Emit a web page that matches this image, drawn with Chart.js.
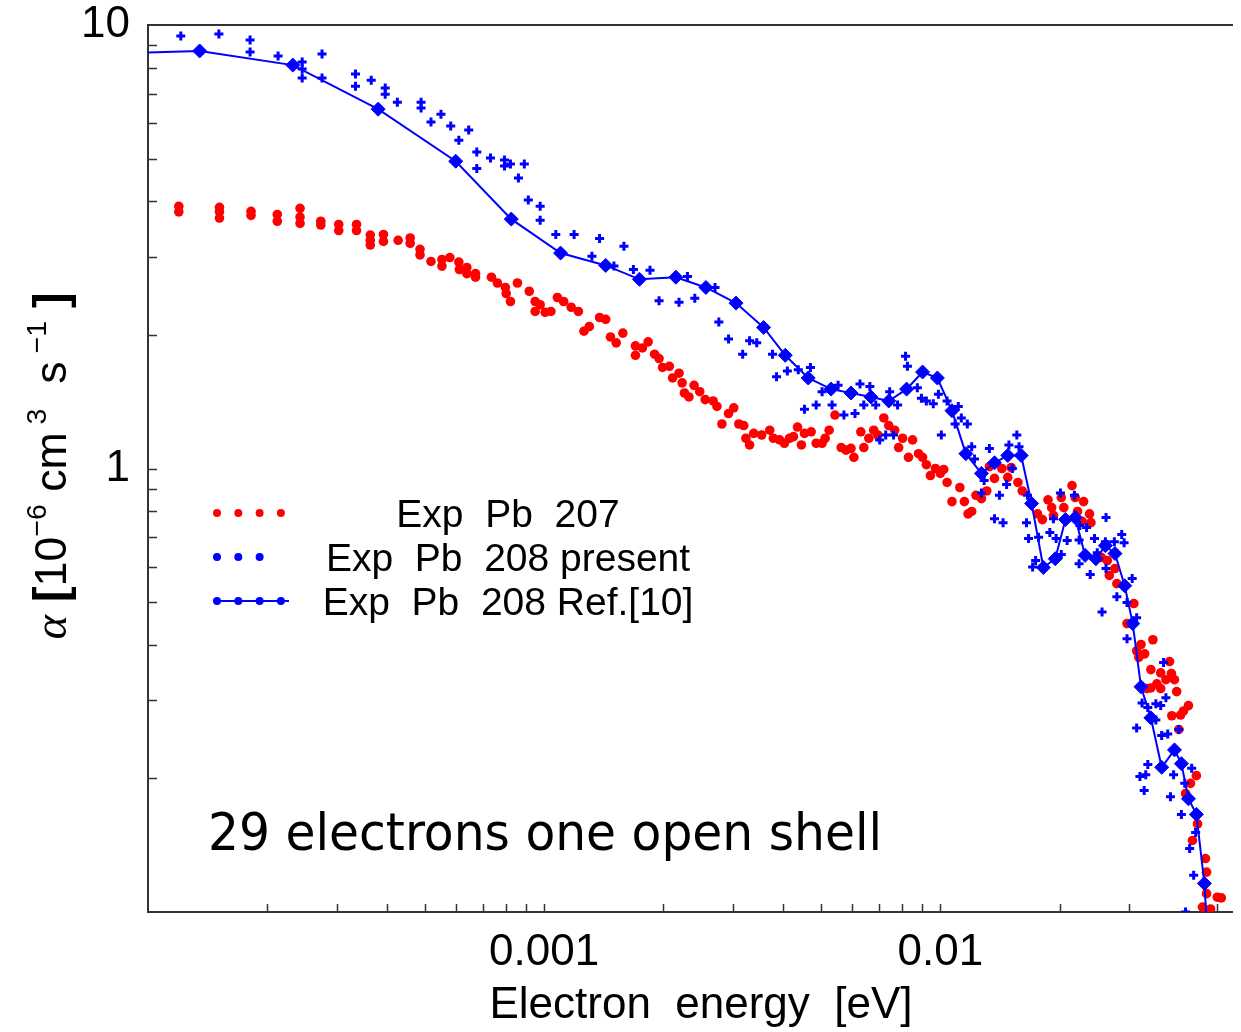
<!DOCTYPE html>
<html>
<head>
<meta charset="utf-8">
<script src="https://cdn.jsdelivr.net/npm/chart.js@4.4.1/dist/chart.umd.min.js"></script>
<style>
  html, body { margin: 0; padding: 0; background: #fff; }
</style>
</head>
<body>
<canvas id="chart" width="1241" height="1032"></canvas>
<script>
// Exp Pb 207 (red dots): electron energy [eV] and rate [1e-6 cm^3 s^-1]
const pb207Energy = [
  1.196e-4, 1.196e-4, 1.515e-4, 1.515e-4, 1.515e-4, 1.82e-4, 1.82e-4, 2.12e-4, 2.12e-4, 2.42e-4,
  2.42e-4, 2.42e-4, 2.73e-4, 2.73e-4, 3.03e-4, 3.03e-4, 3.36e-4, 3.36e-4, 3.64e-4, 3.64e-4,
  3.64e-4, 3.93e-4, 3.93e-4, 4.28e-4, 4.59e-4, 4.59e-4, 4.86e-4, 4.86e-4, 5.18e-4, 5.52e-4,
  5.52e-4, 5.78e-4, 6.09e-4, 6.11e-4, 6.38e-4, 6.38e-4, 6.71e-4, 6.71e-4, 7.36e-4, 7.62e-4,
  7.98e-4, 8.02e-4, 8.22e-4, 8.56e-4, 9.17e-4, 9.49e-4, 9.49e-4, 9.77e-4, 1.006e-3, 1.04e-3,
  1.08e-3, 1.12e-3, 1.17e-3, 1.22e-3, 1.26e-3, 1.30e-3, 1.38e-3, 1.43e-3, 1.47e-3, 1.52e-3,
  1.58e-3, 1.70e-3, 1.70e-3, 1.77e-3, 1.83e-3, 1.90e-3, 1.95e-3, 1.99e-3, 2.07e-3, 2.11e-3,
  2.19e-3, 2.23e-3, 2.26e-3, 2.32e-3, 2.39e-3, 2.47e-3, 2.55e-3, 2.67e-3, 2.73e-3, 2.81e-3,
  2.92e-3, 3.01e-3, 3.10e-3, 3.19e-3, 3.23e-3, 3.30e-3, 3.38e-3, 3.54e-3, 3.71e-3, 3.79e-3,
  3.93e-3, 4.04e-3, 4.16e-3, 4.26e-3, 4.36e-3, 4.46e-3, 4.54e-3, 4.72e-3, 4.86e-3, 5.03e-3,
  5.12e-3, 5.24e-3, 5.42e-3, 5.62e-3, 5.78e-3, 5.95e-3, 6.05e-3, 6.30e-3, 6.41e-3, 6.60e-3,
  6.79e-3, 6.95e-3, 7.20e-3, 7.41e-3, 7.67e-3, 7.85e-3, 8.03e-3, 8.31e-3, 8.51e-3, 8.81e-3,
  9.02e-3, 9.22e-3, 9.44e-3, 9.72e-3, 1.00e-2, 1.02e-2, 1.04e-2, 1.07e-2, 1.12e-2, 1.15e-2,
  1.175e-2, 1.20e-2, 1.23e-2, 1.27e-2, 1.31e-2, 1.33e-2, 1.37e-2, 1.43e-2, 1.48e-2, 1.51e-2,
  1.57e-2, 1.61e-2, 1.76e-2, 1.81e-2, 1.87e-2, 1.91e-2, 1.93e-2, 2.02e-2, 2.05e-2, 2.15e-2,
  2.19e-2, 2.22e-2, 2.28e-2, 2.30e-2, 2.38e-2, 2.40e-2, 2.55e-2, 2.64e-2, 2.67e-2, 2.76e-2,
  2.79e-2, 2.96e-2, 3.08e-2, 3.13e-2, 3.17e-2, 3.21e-2, 3.28e-2, 3.32e-2, 3.40e-2, 3.40e-2,
  3.44e-2, 3.52e-2, 3.60e-2, 3.60e-2, 3.71e-2, 3.79e-2, 3.83e-2, 3.84e-2, 3.90e-2, 3.95e-2,
  4.00e-2, 4.04e-2, 4.11e-2, 4.16e-2, 4.23e-2, 4.28e-2, 4.33e-2, 4.43e-2, 4.46e-2, 4.59e-2,
  4.67e-2, 4.70e-2, 4.70e-2, 4.81e-2, 5.00e-2, 5.12e-2
];
const pb207Rate = [
  3.90, 3.79, 3.88, 3.79, 3.67, 3.80, 3.72, 3.74, 3.61, 3.86,
  3.69, 3.57, 3.61, 3.54, 3.55, 3.44, 3.55, 3.44, 3.36, 3.27,
  3.19, 3.37, 3.25, 3.27, 3.31, 3.22, 3.12, 3.03, 2.93, 2.96,
  2.86, 2.99, 2.92, 2.81, 2.84, 2.75, 2.75, 2.70, 2.70, 2.62,
  2.56, 2.48, 2.38, 2.62, 2.51, 2.38, 2.26, 2.34, 2.25, 2.26,
  2.43, 2.38, 2.31, 2.26, 2.04, 2.09, 2.19, 2.17, 1.98, 1.92,
  2.02, 1.89, 1.80, 1.87, 1.93, 1.81, 1.77, 1.69, 1.70, 1.60,
  1.64, 1.56, 1.48, 1.45, 1.54, 1.49, 1.43, 1.42, 1.38, 1.26,
  1.33, 1.37, 1.26, 1.25, 1.17, 1.13, 1.20, 1.19, 1.22, 1.17,
  1.16, 1.14, 1.17, 1.18, 1.24, 1.13, 1.20, 1.21, 1.14, 1.14,
  1.17, 1.22, 1.32, 1.115, 1.10, 1.11, 1.06, 1.21, 1.115, 1.17,
  1.22, 1.19, 1.30, 1.25, 1.22, 1.115, 1.17, 1.06, 1.16, 1.08,
  1.06, 1.02, 0.964, 1.00, 0.975, 0.995, 0.93, 0.842, 0.906, 0.842,
  0.79, 0.80, 0.87, 0.855, 0.89, 1.01, 0.95, 1.00, 0.955, 1.005,
  0.93, 0.89, 0.79, 0.767, 0.85, 0.816, 0.784, 0.86, 0.816, 0.915,
  0.86, 0.80, 0.76, 0.842, 0.79, 0.755, 0.63, 0.62, 0.574, 0.595,
  0.55, 0.447, 0.496, 0.388, 0.375, 0.401, 0.382, 0.319, 0.352, 0.32,
  0.411, 0.327, 0.346, 0.319, 0.334, 0.367, 0.345, 0.277, 0.334, 0.314,
  0.258, 0.278, 0.284, 0.185, 0.292, 0.195, 0.145, 0.203, 0.158, 0.1026,
  0.132, 0.123, 0.110, 0.1016, 0.108, 0.1076
];

// Exp Pb 208 present (blue crosses)
const pb208Energy = [
  1.21e-4, 1.51e-4, 1.81e-4, 1.81e-4, 2.13e-4, 2.45e-4, 2.45e-4, 2.45e-4, 2.75e-4, 2.75e-4,
  3.34e-4, 3.34e-4, 3.66e-4, 3.97e-4, 3.97e-4, 4.26e-4, 4.89e-4, 4.89e-4, 5.18e-4, 5.49e-4,
  5.81e-4, 6.09e-4, 6.45e-4, 6.76e-4, 6.76e-4, 7.32e-4, 7.94e-4, 7.94e-4, 8.22e-4, 8.61e-4,
  8.91e-4, 9.12e-4, 9.77e-4, 9.77e-4, 1.07e-3, 1.19e-3, 1.38e-3, 1.59e-3, 1.32e-3, 1.50e-3,
  1.68e-3, 1.85e-3, 1.95e-3, 2.19e-3, 2.30e-3, 2.40e-3, 2.70e-3, 2.76e-3, 2.92e-3, 3.17e-3,
  3.30e-3, 3.44e-3, 3.77e-3, 3.86e-3, 4.11e-3, 4.38e-3, 4.70e-3, 4.54e-3, 4.86e-3, 5.03e-3,
  5.33e-3, 5.52e-3, 5.71e-3, 6.09e-3, 6.27e-3, 6.41e-3, 6.64e-3, 6.87e-3, 7.03e-3, 7.28e-3,
  7.62e-3, 7.45e-3, 7.80e-3, 8.17e-3, 8.26e-3, 8.75e-3, 8.96e-3, 9.22e-3, 9.60e-3, 9.89e-3,
  1.006e-2, 1.04e-2, 1.11e-2, 1.13e-2, 1.09e-2, 1.17e-2, 1.20e-2, 1.33e-2, 1.49e-2, 1.56e-2,
  1.58e-2, 1.22e-2, 1.29e-2, 1.47e-2, 1.52e-2, 1.27e-2, 1.41e-2, 1.37e-2, 1.44e-2, 1.66e-2,
  1.65e-2, 1.67e-2, 1.77e-2, 1.93e-2, 2.01e-2, 2.18e-2, 1.89e-2, 1.96e-2, 2.09e-2, 2.24e-2,
  1.74e-2, 1.71e-2, 2.02e-2, 2.24e-2, 2.39e-2, 2.25e-2, 2.34e-2, 2.62e-2, 2.45e-2, 2.61e-2,
  2.75e-2, 2.87e-2, 2.91e-2, 2.49e-2, 2.62e-2, 2.79e-2, 2.96e-2, 3.05e-2, 3.13e-2, 2.56e-2,
  2.96e-2, 3.66e-2, 3.23e-2, 3.34e-2, 3.50e-2, 3.60e-2, 3.71e-2, 3.13e-2, 3.62e-2, 3.75e-2,
  4.00e-2, 3.50e-2, 3.34e-2, 3.19e-2, 3.30e-2, 3.27e-2, 3.88e-2, 3.81e-2, 4.31e-2, 4.14e-2,
  4.06e-2, 4.41e-2, 4.26e-2, 4.36e-2, 4.16e-2
];
const pb208Rate = [
  9.45, 9.54, 9.25, 8.69, 8.51, 8.25, 7.96, 7.59, 8.60, 7.59,
  7.75, 7.28, 7.51, 7.21, 6.98, 6.70, 6.70, 6.50, 6.04, 6.29,
  5.92, 5.50, 5.80, 5.17, 4.75, 5.01, 4.96, 4.81, 4.86, 4.52,
  4.86, 4.03, 3.90, 3.63, 3.37, 3.37, 3.30, 3.17, 3.01, 2.86,
  2.81, 2.80, 2.39, 2.37, 2.71, 2.42, 2.56, 2.14, 1.96, 1.81,
  1.94, 1.92, 1.81, 1.61, 1.66, 1.67, 1.69, 1.36, 1.39, 1.49,
  1.39, 1.54, 1.32, 1.33, 1.55, 1.39, 1.53, 1.39, 1.16, 1.19,
  1.19, 1.49, 1.39, 1.79, 1.70, 1.52, 1.44, 1.42, 1.40, 1.47,
  1.19, 1.42, 1.38, 1.30, 1.26, 1.26, 1.12, 1.11, 1.13, 1.19,
  1.12, 1.05, 0.94, 0.92, 1.00, 0.88, 0.87, 0.77, 0.755, 0.87,
  0.755, 0.695, 0.70, 0.77, 0.88, 0.87, 0.717, 0.695, 0.688, 0.69,
  0.62, 0.60, 0.64, 0.61, 0.577, 0.744, 0.736, 0.775, 0.695, 0.684,
  0.684, 0.71, 0.68, 0.646, 0.595, 0.514, 0.499, 0.565, 0.461, 0.475,
  0.413, 0.365, 0.296, 0.289, 0.295, 0.292, 0.304, 0.260, 0.250, 0.252,
  0.258, 0.271, 0.215, 0.202, 0.204, 0.188, 0.204, 0.182, 0.211, 0.195,
  0.166, 0.151, 0.139, 0.121, 0.100
];

// Exp Pb 208 Ref.[10] (blue line with diamonds)
const refEnergy = [
  9.0e-5, 1.35e-4, 2.32e-4, 3.81e-4, 5.98e-4, 8.26e-4, 1.10e-3, 1.43e-3, 1.74e-3, 2.15e-3,
  2.56e-3, 3.05e-3, 3.58e-3, 4.06e-3, 4.64e-3, 5.30e-3, 5.95e-3, 6.68e-3, 7.41e-3, 8.22e-3,
  9.02e-3, 9.83e-3, 1.07e-2, 1.16e-2, 1.27e-2, 1.37e-2, 1.48e-2, 1.60e-2, 1.70e-2, 1.82e-2,
  1.95e-2, 2.07e-2, 2.19e-2, 2.32e-2, 2.47e-2, 2.61e-2, 2.76e-2, 2.92e-2, 3.06e-2, 3.21e-2,
  3.40e-2, 3.62e-2, 3.90e-2, 4.06e-2, 4.23e-2, 4.43e-2, 4.64e-2, 4.72e-2
];
const refRate = [
  8.65, 8.74, 8.12, 6.46, 4.93, 3.65, 3.06, 2.87, 2.67, 2.70,
  2.56, 2.36, 2.08, 1.80, 1.60, 1.51, 1.48, 1.45, 1.42, 1.51,
  1.65, 1.60, 1.35, 1.08, 0.975, 1.03, 1.07, 1.07, 0.834, 0.598,
  0.626, 0.767, 0.775, 0.637, 0.626, 0.670, 0.643, 0.544, 0.447, 0.322,
  0.274, 0.212, 0.232, 0.216, 0.180, 0.166, 0.116, 0.0906
];

// axis ticks (drawn inward) and the labelled ones
const xTickValues = [2e-4, 3e-4, 4e-4, 5e-4, 6e-4, 7e-4, 8e-4, 9e-4, 1e-3, 2e-3, 3e-3, 4e-3, 5e-3,
  6e-3, 7e-3, 8e-3, 9e-3, 1e-2, 2e-2, 3e-2, 5e-2];
const yTickValues = [0.2, 0.3, 0.4, 0.5, 0.6, 0.7, 0.8, 0.9, 1, 2, 3, 4, 5, 6, 7, 8, 9];
const xTickLabels = ['0.001', '0.01'];
const xLabelValues = [0.001, 0.01];
const yTickLabels = ['10', '1'];
const yLabelValues = [10, 1];

const FONT = '"Liberation Sans", Arial, sans-serif';
const RED = '#ff0000';
const BLUE = '#0000ff';

const toPoints = (xs, ys) => xs.map((x, i) => ({ x: x, y: ys[i] }));

const framePlugin = {
  id: 'frame',
  beforeDatasetsDraw(chart) {
    const { ctx, chartArea: a, scales } = chart;
    ctx.save();
    ctx.strokeStyle = '#333';
    ctx.lineWidth = 2;
    ctx.beginPath();
    ctx.moveTo(a.right, a.top);
    ctx.lineTo(a.left, a.top);
    ctx.lineTo(a.left, a.bottom);
    ctx.lineTo(a.right, a.bottom);
    ctx.stroke();

    ctx.lineWidth = 1.5;
    ctx.beginPath();
    xTickValues.forEach(v => {
      const px = Math.round(scales.x.getPixelForValue(v)) + 0.5;
      ctx.moveTo(px, a.bottom);
      ctx.lineTo(px, a.bottom - 8);
    });
    yTickValues.forEach(v => {
      const py = Math.round(scales.y.getPixelForValue(v)) + 0.5;
      ctx.moveTo(a.left, py);
      ctx.lineTo(a.left + 9, py);
    });
    ctx.stroke();
    ctx.restore();
  },
  afterDraw(chart) {
    const { ctx, chartArea: a, scales } = chart;
    ctx.save();
    ctx.fillStyle = '#000';

    // tick labels
    ctx.font = '44px ' + FONT;
    ctx.textAlign = 'center';
    ctx.textBaseline = 'middle';
    xLabelValues.forEach((v, i) => {
      ctx.fillText(xTickLabels[i], scales.x.getPixelForValue(v), 953);
    });
    ctx.textAlign = 'right';
    yLabelValues.forEach((v, i) => {
      ctx.fillText(yTickLabels[i], a.left - 18, scales.y.getPixelForValue(v));
    });

    // x title
    ctx.textAlign = 'center';
    ctx.fillText('Electron  energy  [eV]', 701, 1006);

    // y title, rotated, with superscripts
    const parts = [
      { t: '\u03b1', font: 'italic 46px "Liberation Serif", serif', dy: 0 },
      { t: ' [', font: 'bold 46px ' + FONT, dy: 0 },
      { t: '10', font: '44px ' + FONT, dy: 0 },
      { t: '\u22126', font: '28px ' + FONT, dy: -20 },
      { t: ' cm', font: '44px ' + FONT, dy: 0 },
      { t: ' 3', font: '28px ' + FONT, dy: -20 },
      { t: '  s', font: '44px ' + FONT, dy: 0 },
      { t: ' \u22121', font: '28px ' + FONT, dy: -20 },
      { t: ' ]', font: 'bold 46px ' + FONT, dy: 0 }
    ];
    let total = 0;
    parts.forEach(p => { ctx.font = p.font; p.w = ctx.measureText(p.t).width; total += p.w; });
    ctx.save();
    ctx.translate(66, 466);
    ctx.rotate(-Math.PI / 2);
    ctx.scale(347 / total, 1);
    ctx.textAlign = 'left';
    ctx.textBaseline = 'alphabetic';
    let pos = -total / 2;
    parts.forEach(p => { ctx.font = p.font; ctx.fillText(p.t, pos, p.dy); pos += p.w; });
    ctx.restore();

    // legend
    const rows = [
      { y: 513, color: RED, dots: 4, line: false },
      { y: 557, color: BLUE, dots: 3, line: false },
      { y: 601, color: BLUE, dots: 4, line: true }
    ];
    ctx.font = '39px ' + FONT;
    ctx.textAlign = 'center';
    ctx.textBaseline = 'alphabetic';
    rows.forEach((r, i) => {
      ctx.fillStyle = r.color;
      ctx.strokeStyle = r.color;
      if (r.line) {
        ctx.lineWidth = 2;
        ctx.beginPath();
        ctx.moveTo(215, r.y);
        ctx.lineTo(289, r.y);
        ctx.stroke();
      }
      for (let k = 0; k < r.dots; k++) {
        ctx.beginPath();
        ctx.arc(217 + k * 21.3, r.y, 4, 0, Math.PI * 2);
        ctx.fill();
      }
      ctx.fillStyle = '#000';
      ctx.fillText(chart.data.datasets.find(d => d.legendRow === i).label, 508, r.y + 14);
    });

    // caption
    const caption = '29 electrons one open shell';
    ctx.font = '52px "DejaVu Sans", sans-serif';
    ctx.textAlign = 'left';
    const cw = ctx.measureText(caption).width;
    ctx.save();
    ctx.translate(208, 850);
    ctx.scale(674 / cw, 1);
    ctx.fillText(caption, 0, 0);
    ctx.restore();

    ctx.restore();
  }
};

new Chart(document.getElementById('chart'), {
  type: 'scatter',
  data: {
    datasets: [
      {
        label: 'Exp  Pb  208 Ref.[10]',
        legendRow: 2,
        type: 'line',
        data: toPoints(refEnergy, refRate),
        borderColor: BLUE,
        backgroundColor: BLUE,
        borderWidth: 2,
        pointStyle: 'rectRot',
        pointRadius: 7,
        pointBorderWidth: 1,
        tension: 0,
        clip: 0,
        order: 0
      },
      {
        label: 'Exp  Pb  208 present',
        legendRow: 1,
        data: toPoints(pb208Energy, pb208Rate),
        borderColor: BLUE,
        backgroundColor: BLUE,
        pointStyle: 'cross',
        pointRadius: 4.5,
        borderWidth: 3,
        order: 1
      },
      {
        label: 'Exp  Pb  207',
        legendRow: 0,
        data: toPoints(pb207Energy, pb207Rate),
        borderColor: RED,
        backgroundColor: RED,
        pointStyle: 'circle',
        pointRadius: 4.8,
        borderWidth: 0,
        order: 2
      }
    ]
  },
  options: {
    responsive: false,
    animation: false,
    devicePixelRatio: 1,
    events: [],
    layout: { padding: { top: 25, right: 0, left: 0, bottom: 0 } },
    plugins: { legend: { display: false }, tooltip: { enabled: false } },
    scales: {
      x: {
        type: 'logarithmic',
        min: 1e-4,
        max: 0.0548,
        grid: { display: false, drawTicks: false },
        border: { display: false },
        ticks: { display: false },
        afterFit: s => { s.height = 120; }
      },
      y: {
        type: 'logarithmic',
        min: 0.1,
        max: 10,
        grid: { display: false, drawTicks: false },
        border: { display: false },
        ticks: { display: false },
        afterFit: s => { s.width = 148; }
      }
    }
  },
  plugins: [framePlugin]
});
</script>
</body>
</html>
